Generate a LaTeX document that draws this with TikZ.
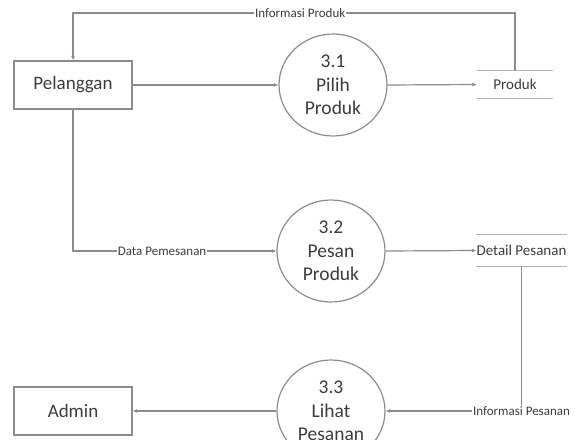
\documentclass[tikz,border=0pt]{standalone}
\usepackage{fontspec}
\setmainfont{Carlito}
\usetikzlibrary{shapes.geometric,arrows.meta}
\definecolor{linegray}{HTML}{8C8C8C}
\definecolor{storegray}{HTML}{B4B4B4}
\definecolor{textgray}{HTML}{3C3C3C}

\begin{document}
\begin{tikzpicture}[x=1pt,y=-1pt,
  flow/.style={draw=linegray,line width=1.2pt,-{Latex[length=4.5pt,width=4pt]}},
  entity/.style={draw=linegray,line width=1.2pt,minimum width=118pt,minimum height=48pt,
    inner sep=0pt,font=\fontsize{19}{23}\selectfont,text=textgray},
  process/.style={ellipse,draw=linegray,line width=1.2pt,minimum width=108pt,minimum height=102pt,
    inner sep=0pt,align=center,font=\fontsize{19.5}{23.5}\selectfont,text=textgray},
  store/.style={inner sep=0pt,font=\fontsize{15}{18}\selectfont,text=textgray},
  storeline/.style={draw=storegray,line width=1pt},
  flowlabel/.style={fill=white,inner sep=1pt,font=\fontsize{13}{15}\selectfont,text=textgray}]

\useasboundingbox (0,0) rectangle (575,439);
\clip (0,0) rectangle (575,439);

% external entities
\node[entity] (pel) at (73,85) {Pelanggan};
\node[entity] (adm) at (73,411) {Admin};

% processes
\node[process] (p1) at (333,85) {3.1\\Pilih\\Produk};
\node[process] (p2) at (331,251) {3.2\\Pesan\\Produk};
\node[process] (p3) at (331,411) {3.3\\Lihat\\Pesanan};

% data stores
\node[store, minimum width=76pt, minimum height=27pt] (s1) at (515,84.5) {Produk};
\draw[storeline] (s1.north west) -- (s1.north east);
\draw[storeline] (s1.south west) -- (s1.south east);

\node[store, minimum width=89pt, minimum height=31pt] (s2) at (521.5,250.5) {Detail Pesanan};
\draw[storeline] (s2.north west) -- (s2.north east);
\draw[storeline] (s2.south west) -- (s2.south east);

% data flows
\coordinate (tr) at (515,13);
\draw[flow] (pel.east) -- (p1.west);
\draw[flow] (p1.east) -- (s1.west);
\draw[flow] (s1.north) -- (tr) -| node[pos=0.243,flowlabel] {Informasi Produk} (pel.north);

\draw[flow] (pel.south) |- node[pos=0.719,flowlabel] {Data Pemesanan} (p2.west);
\draw[flow] (p2.east) -- (s2.west);

\draw[flow] (s2.south) |- node[pos=0.5,flowlabel] {Informasi Pesanan} (p3.east);
\draw[flow] (p3.west) -- (adm.east);
\end{tikzpicture}
\end{document}
